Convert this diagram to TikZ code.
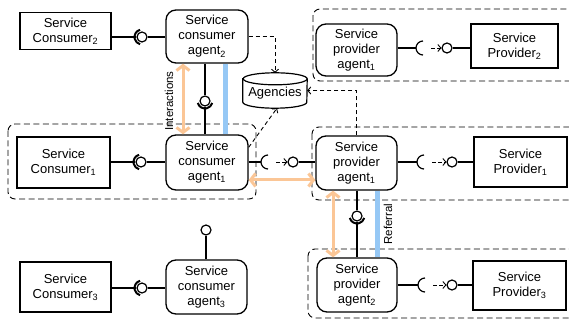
\documentclass[tikz,border=0pt]{standalone}
\usepackage{fontspec}
\setmainfont{Liberation Sans}
\usetikzlibrary{arrows.meta}
\definecolor{orng}{RGB}{251,198,150}
\definecolor{lblue}{RGB}{150,200,245}
\tikzset{
  base/.style={draw, line width=1.3pt, align=center, inner sep=0pt, font=\fontsize{13}{15}\selectfont, fill=white},
  svcbox/.style={base},
  agentbox/.style={base, rounded corners=10pt},
  grp/.style={draw, dash pattern=on 6pt off 3.5pt, line width=0.9pt, rounded corners=7pt},
  link/.style={line width=1.2pt},
  ball/.style={circle, draw, line width=1.2pt, fill=white, minimum size=10pt, inner sep=0pt},
  crescent/.style={line width=2pt},
  sockarc/.style={line width=1.2pt},
  dlink/.style={dash pattern=on 4pt off 3pt, line width=0.9pt, -{Straight Barb[length=3pt,width=7pt]}},
  shortdash/.style={dash pattern=on 4pt off 2pt, line width=0.9pt, -{Straight Barb[length=3pt,width=7pt]}},
  inter/.style={orng, line width=3pt, {Straight Barb[length=5pt,width=13pt]}-{Straight Barb[length=5pt,width=13pt]}},
  blu/.style={lblue, line width=5pt},
  lab/.style={font=\fontsize{11.5}{13}\selectfont, rotate=90, inner sep=0pt},
}
\begin{document}
\begin{tikzpicture}[x=1pt,y=-1pt]
\useasboundingbox (0,0) rectangle (569,320);
% groups
\begin{scope}
\clip (0,0) rectangle (569,320);
\draw[grp] (313,9) rectangle (580,81);
\draw[grp] (8,124) rectangle (256,199);
\draw[grp] (312,127) rectangle (580,200);
\draw[grp] (308,249) rectangle (580,318);
\end{scope}
% main nodes
\node[svcbox, minimum width=91pt, minimum height=37pt] (SC2) at (65.5,31) {Service\\Consumer\textsubscript{2}};
\node[agentbox, minimum width=82pt, minimum height=53pt] (CA2) at (207,36.5) {Service\\consumer\\agent\textsubscript{2}};
\node[svcbox, minimum width=93pt, minimum height=51pt] (SC1) at (63.5,162.5) {Service\\Consumer\textsubscript{1}};
\node[agentbox, minimum width=82pt, minimum height=55pt] (CA1) at (207,162.5) {Service\\consumer\\agent\textsubscript{1}};
\node[svcbox, minimum width=91pt, minimum height=50pt] (SC3) at (65.5,287) {Service\\Consumer\textsubscript{3}};
\node[agentbox, minimum width=81pt, minimum height=54pt] (CA3) at (206.5,287) {Service\\consumer\\agent\textsubscript{3}};
\node[agentbox, minimum width=81pt, minimum height=52pt] (PA1t) at (356.5,50) {Service\\provider\\agent\textsubscript{1}};
\node[svcbox, minimum width=87pt, minimum height=44pt] (SP2) at (514.5,46) {Service\\Provider\textsubscript{2}};
\node[agentbox, minimum width=81pt, minimum height=54pt] (PA1) at (356.5,163) {Service\\provider\\agent\textsubscript{1}};
\node[svcbox, minimum width=93pt, minimum height=50pt] (SP1) at (520.5,162) {Service\\Provider\textsubscript{1}};
\node[agentbox, minimum width=80pt, minimum height=54pt] (PA2) at (357,285) {Service\\provider\\agent\textsubscript{2}};
\node[svcbox, minimum width=93pt, minimum height=49pt] (SP3) at (519.5,285.5) {Service\\Provider\textsubscript{3}};
% Agencies cylinder
\node[minimum width=64pt, minimum height=35pt, inner sep=0pt] (ag) at (275,90.5) {};
\draw[line width=1.2pt, fill=white] ([yshift=-6pt]ag.north west) -- ([yshift=6pt]ag.south west)
  arc[start angle=180,end angle=360,x radius=32pt,y radius=6pt] -- ([yshift=-6pt]ag.north east)
  arc[start angle=0,end angle=180,x radius=32pt,y radius=6pt] -- cycle;
\draw[line width=1.2pt] ([yshift=-6pt]ag.north east) arc[start angle=0,end angle=-180,x radius=32pt,y radius=6pt];
\node[font=\fontsize{13}{15}\selectfont, inner sep=0pt] (agtext) at (275,93.5) {Agencies};
% consumer -- agent (ball + crescent)
\node[ball] (b2) at (142,37) {};
\node[ball] (b1) at (141,162) {};
\node[ball] (b3) at (142,288) {};
\foreach \s/\a/\b in {SC2/CA2/b2, SC1/CA1/b1, SC3/CA3/b3}{
  \draw[link] (\s.east |- \b) -- (\b.west);
  \draw[link] (\b.east) -- (\a.west |- \b);
  \draw[crescent] (\b.center) ++(105:7.5pt) arc[start angle=105,end angle=255,radius=7.5pt];
}
% vertical agent--agent links
\node[ball] (bv1) at (205,101) {};
\draw[link] (CA2.south -| bv1) -- (bv1.north);
\draw[link] (bv1.south) -- (CA1.north -| bv1);
\draw[crescent] (bv1.center) ++(195:7.5pt) arc[start angle=195,end angle=345,radius=7.5pt];
\node[ball] (bv2) at (357,216) {};
\draw[link] (PA1.south -| bv2) -- (bv2.north);
\draw[link] (bv2.south) -- (PA2.north -| bv2);
\draw[crescent] (bv2.center) ++(195:7.5pt) arc[start angle=195,end angle=345,radius=7.5pt];
\node[ball] (bv3) at (206,230) {};
\draw[link] (CA3.north -| bv3) -- (bv3.south);
% socket -- ball links
\coordinate (s0) at (268,162);
\node[ball] (p0) at (293,162) {};
\draw[link] (CA1.east |- s0) -- ([xshift=-7pt]s0);
\draw[sockarc] ([yshift=7pt]s0) arc[start angle=90,end angle=270,radius=7pt];
\draw[shortdash] ([xshift=8pt]s0) -- (p0.west);
\draw[link] (p0.east) -- (PA1.west |- p0);
\coordinate (s1) at (423,48);
\node[ball] (p1) at (447,48) {};
\draw[link] (PA1t.east |- s1) -- ([xshift=-7pt]s1);
\draw[sockarc] ([yshift=7pt]s1) arc[start angle=90,end angle=270,radius=7pt];
\draw[shortdash] ([xshift=8pt]s1) -- (p1.west);
\draw[link] (p1.east) -- (SP2.west |- p1);
\coordinate (s2) at (424,162);
\node[ball] (p2) at (452,162) {};
\draw[link] (PA1.east |- s2) -- ([xshift=-7pt]s2);
\draw[sockarc] ([yshift=7pt]s2) arc[start angle=90,end angle=270,radius=7pt];
\draw[shortdash] ([xshift=8pt]s2) -- (p2.west);
\draw[link] (p2.east) -- (SP1.west |- p2);
\coordinate (s3) at (425,285);
\node[ball] (p3) at (452,285) {};
\draw[link] (PA2.east |- s3) -- ([xshift=-7pt]s3);
\draw[sockarc] ([yshift=7pt]s3) arc[start angle=90,end angle=270,radius=7pt];
\draw[shortdash] ([xshift=8pt]s3) -- (p3.west);
\draw[link] (p3.east) -- (SP3.west |- p3);
% agencies dashed links
\draw[dlink] (CA2.east) -| (ag.north);
\draw[dlink] (PA1.north) |- (ag.east);
\draw[dlink] (CA1.20) -- ([xshift=2pt]ag.south);
% interactions / referral
\coordinate (ox1) at (183,0);
\coordinate (ox2) at (333,0);
\coordinate (oy1) at (0,180);
\coordinate (bx1) at (225,0);
\coordinate (bx2) at (377,0);
\draw[blu] (bx1 |- CA2.south) -- (bx1 |- CA1.north);
\draw[blu] (bx2 |- PA1.south) -- (bx2 |- PA2.north);
\draw[inter] (ox1 |- CA2.south) -- (ox1 |- CA1.north);
\draw[inter] (CA1.east |- oy1) -- (PA1.west |- oy1);
\draw[inter] (ox2 |- PA1.south) -- (ox2 |- PA2.north);
\node[lab] (lint) at (169,101) {Interactions};
\node[lab] (lref) at (388,224) {Referral};
\end{tikzpicture}
\end{document}
